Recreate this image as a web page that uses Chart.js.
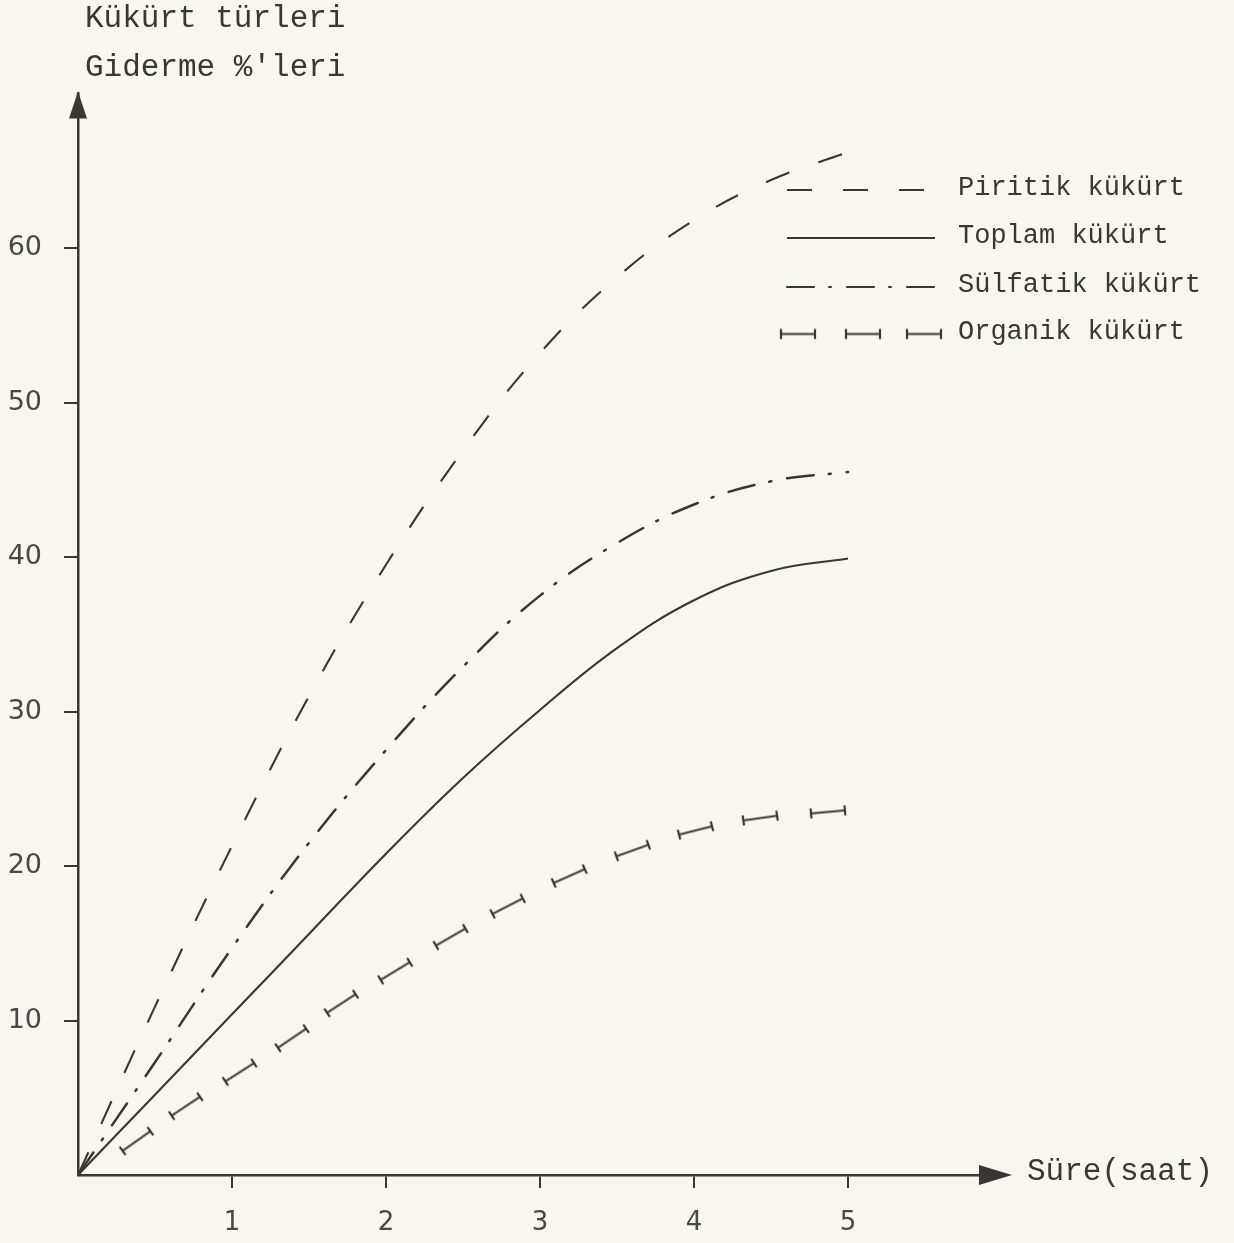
<!DOCTYPE html>
<html>
<head>
<meta charset="utf-8">
<script src="https://cdn.jsdelivr.net/npm/chart.js@4.4.1/dist/chart.umd.min.js"></script>
<style>
    html, body { margin: 0; padding: 0; background: #f7f6ef; }
    #wrap { width: 1234px; height: 1243px; }
</style>
</head>
<body>
<div id="wrap"><canvas id="chart" width="1234" height="1243"></canvas></div>
<script>
const Y_TITLE      = ['Kükürt türleri', "Giderme %'leri"];
const X_TITLE      = 'Süre(saat)';
const HOUR_TICKS   = [1, 2, 3, 4, 5];
const PCT_TICKS    = [10, 20, 30, 40, 50, 60];
const SERIES_NAMES = ['Piritik kükürt', 'Toplam kükürt', 'Sülfatik kükürt', 'Organik kükürt'];

// saat
const HOURS    = [0, 0.5, 1, 1.5, 2, 2.5, 3, 3.5, 4, 4.5, 5];
const PIRITIK  = [0, 10.9, 21.3, 31.0, 39.5, 46.9, 53.2, 58.1, 61.8, 64.4, 66.2];
const TOPLAM   = [0, 5.2, 10.4, 15.6, 20.8, 25.7, 30.1, 34.1, 37.2, 39.1, 39.9];
const SULFATIK = [0, 7.3, 14.7, 21.5, 27.5, 32.9, 37.5, 40.9, 43.4, 44.9, 45.5];

// organik: her işaretin merkezi
const ORGANIK_HOURS = [0.38, 0.70, 1.05, 1.39, 1.71, 2.06, 2.42, 2.79, 3.19, 3.60, 4.01, 4.43, 4.87];
const ORGANIK       = [2.2, 4.45, 6.65, 8.85, 11.1, 13.2, 15.4, 17.4, 19.35, 21.0, 22.3, 23.1, 23.5];

const INK   = '#393734';
const PAPER = '#f7f6ef';
const DASH_PIRITIK  = [25, 31];
const DASH_SULFATIK = [27, 15, 2, 16];

const pts = (xs, ys) => xs.map((x, i) => ({ x, y: ys[i] }));

// I şeklinde işaret (organik kükürt)
function makeBeam() {
    const c = document.createElement('canvas');
    c.width = 38; c.height = 13;
    const g = c.getContext('2d');
    g.strokeStyle = INK;
    g.lineWidth = 2.2;
    g.lineCap = 'butt';
    g.beginPath();
    g.moveTo(2, 6.5);  g.lineTo(36, 6.5);
    g.moveTo(2, 1.5);  g.lineTo(2, 11.5);
    g.moveTo(36, 1.5); g.lineTo(36, 11.5);
    g.stroke();
    return c;
}
const beam = makeBeam();

function beamAngle(ctx) {
    const chart = ctx.chart;
    const xs = chart.scales.x, ys = chart.scales.y;
    if (!xs || !ys || ctx.dataIndex === undefined) return 0;
    const a = Math.max(ctx.dataIndex - 1, 0);
    const b = Math.min(ctx.dataIndex + 1, ORGANIK.length - 1);
    const dx = xs.getPixelForValue(ORGANIK_HOURS[b]) - xs.getPixelForValue(ORGANIK_HOURS[a]);
    const dy = ys.getPixelForValue(ORGANIK[b]) - ys.getPixelForValue(ORGANIK[a]);
    return Math.atan2(dy, dx) * 180 / Math.PI;
}

const lineBase = {
    borderColor: INK,
    borderWidth: 2.1,
    pointRadius: 0,
    fill: false,
    tension: 0.4,
};

const decor = {
    id: 'decor',
    beforeDraw(chart) {
        const c = chart.ctx;
        c.save();
        c.fillStyle = PAPER;
        c.fillRect(0, 0, chart.width, chart.height);
        c.restore();
    },
    afterDraw(chart) {
        const c = chart.ctx;
        const { left, right, top, bottom } = chart.chartArea;
        c.save();
        c.fillStyle = INK;
        c.strokeStyle = INK;
        c.lineWidth = 2.5;

        // eksen okları
        c.beginPath();
        c.moveTo(left, top + 20); c.lineTo(left, top);
        c.moveTo(right - 10, bottom); c.lineTo(right + 2, bottom);
        c.stroke();
        c.beginPath();
        c.moveTo(left, top - 2); c.lineTo(left - 9, top + 25); c.lineTo(left + 9, top + 25);
        c.closePath(); c.fill();
        c.beginPath();
        c.moveTo(right + 10, bottom); c.lineTo(right - 23, bottom - 10); c.lineTo(right - 23, bottom + 10);
        c.closePath(); c.fill();

        // başlıklar
        c.font = '31px "Liberation Mono"';
        c.textBaseline = 'middle';
        c.textAlign = 'left';
        c.fillText(Y_TITLE[0], 85, 19);
        c.fillText(Y_TITLE[1], 85, 68);
        c.fillText(X_TITLE, 1027, 1172);

        // lejant
        const rows = [190, 238, 287, 334];
        const x0 = 787, x1 = 935;
        c.lineWidth = 2.1;
        chart.data.datasets.forEach((ds, i) => {
            const y = rows[i];
            if (i === 3) {
                [798, 863, 924].forEach(cx => c.drawImage(beam, cx - 19, y - 6.5));
            } else {
                c.setLineDash(ds.borderDash || []);
                c.lineCap = ds.borderCapStyle || 'butt';
                c.beginPath();
                c.moveTo(x0, y); c.lineTo(x1, y);
                c.stroke();
                c.setLineDash([]);
            }
            c.font = '27px "Liberation Mono"';
            c.fillText(SERIES_NAMES[i], 958, y - 2);
        });
        c.restore();
    }
};

new Chart(document.getElementById('chart').getContext('2d'), {
    type: 'line',
    data: {
        datasets: [
            { ...lineBase, label: SERIES_NAMES[0], data: pts(HOURS, PIRITIK), borderDash: DASH_PIRITIK },
            { ...lineBase, label: SERIES_NAMES[1], data: pts(HOURS, TOPLAM) },
            { ...lineBase, label: SERIES_NAMES[2], data: pts(HOURS, SULFATIK), borderDash: DASH_SULFATIK,
              borderCapStyle: 'round', borderWidth: 2.5 },
            {
                label: SERIES_NAMES[3],
                data: pts(ORGANIK_HOURS, ORGANIK),
                showLine: false,
                pointStyle: beam,
                pointRadius: 5,
                rotation: beamAngle,
            },
        ]
    },
    options: {
        responsive: false,
        animation: false,
        events: [],
        layout: { padding: { left: 0, top: 93.5, right: 232, bottom: 0 } },
        plugins: {
            legend: { display: false },
            tooltip: { enabled: false },
        },
        scales: {
            x: {
                type: 'linear',
                min: 0, max: 6,
                afterBuildTicks: s => { s.ticks = HOUR_TICKS.map(v => ({ value: v })); },
                afterFit: s => { s.height = 68; },
                border: { color: INK, width: 2.5 },
                grid: { drawOnChartArea: false, drawTicks: true, tickLength: 13, color: INK, lineWidth: 2 },
                ticks: { color: '#4a4845', padding: 20, maxRotation: 0, font: { family: 'DejaVu Sans', size: 26 } },
            },
            y: {
                type: 'linear',
                min: 0, max: 70,
                afterBuildTicks: s => { s.ticks = PCT_TICKS.map(v => ({ value: v })); },
                afterFit: s => { s.width = 78; },
                border: { color: INK, width: 2.5 },
                grid: { drawOnChartArea: false, drawTicks: true, tickLength: 14, color: INK, lineWidth: 2 },
                ticks: { color: '#4a4845', padding: 22, font: { family: 'DejaVu Sans', size: 27 } },
            }
        }
    },
    plugins: [decor]
});
</script>
</body>
</html>
